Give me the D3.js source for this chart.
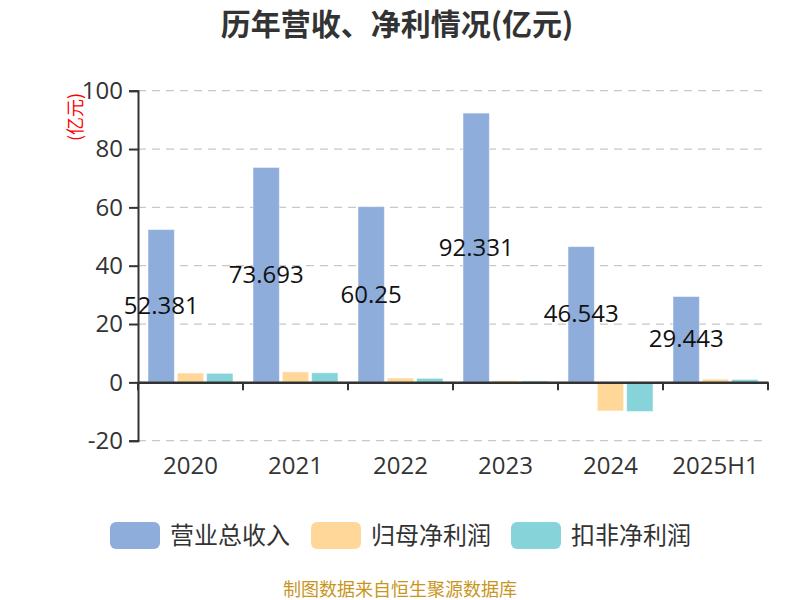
<!DOCTYPE html>
<html><head><meta charset="utf-8">
<script src="https://cdn.jsdelivr.net/npm/d3@7"></script>
<style>body{margin:0;background:#fff}svg{font-family:"Noto Sans CJK SC","Noto Sans",sans-serif}</style>
</head><body>
<svg id="c" width="800" height="600"></svg>
<script>
const categories = ["2020","2021","2022","2023","2024","2025H1"];
const seriesNames = ["营业总收入","归母净利润","扣非净利润"];
const revenue = [52.381, 73.693, 60.25, 92.331, 46.543, 29.443];
const netProfit = [3.2, 3.6, 1.5, 0.6, -9.8, 1.1];
const deductedProfit = [3.1, 3.3, 1.4, 0.5, -10.0, 1.0];
const yTicks = [-20, 0, 20, 40, 60, 80, 100];
const colors = ["#8eaddb", "#ffd899", "#86d4d9"];

const series = [revenue, netProfit, deductedProfit];
const numFont = "'Open Sans','Noto Sans',sans-serif";
const svg = d3.select("#c");
const m = {l:138, r:768, t:90.7, b:440.7};
const x = d3.scaleBand().domain(categories).range([m.l, m.r]).paddingInner(0).paddingOuter(0);
const y = d3.scaleLinear().domain([-20, 100]).range([m.b, m.t]);
const inner = d3.scaleBand().domain(d3.range(3)).range([10, x.bandwidth()-10]).paddingInner(0.1);

// title
svg.append("text").attr("x",397).attr("y",35).attr("text-anchor","middle")
  .attr("font-size",30).attr("font-weight","bold").attr("fill","#333").text("历年营收、净利情况(亿元)");

// grid
svg.append("g").selectAll("line").data(yTicks).join("line")
  .attr("x1",m.l).attr("x2",m.r).attr("y1",d=>y(d)).attr("y2",d=>y(d))
  .attr("stroke","#c8c8c8").attr("stroke-dasharray","8,6").attr("stroke-width",1.3);

// y axis
const ya = svg.append("g").attr("transform",`translate(${m.l},0)`)
  .call(d3.axisLeft(y).tickValues(yTicks).tickFormat(d=>String(d)).tickSize(9).tickPadding(6));
ya.select(".domain").attr("stroke","#333").attr("stroke-width",2);
ya.selectAll(".tick line").attr("stroke","#333").attr("stroke-width",2);
ya.selectAll("text").attr("font-size",24).attr("fill","#333").attr("font-family",numFont);

// unit label
svg.append("text").attr("transform",`translate(82,117) rotate(-90)`).attr("text-anchor","middle")
  .attr("font-size",18).attr("fill","#ff0000").text("(亿元)");

// bars
const groups = svg.append("g").selectAll("g").data(series).join("g").attr("fill",(d,i)=>colors[i]);
groups.each(function(vals, si){
  d3.select(this).selectAll("rect").data(vals).join("rect")
    .attr("x",(d,i)=>x(categories[i])+inner(si))
    .attr("width",inner.bandwidth())
    .attr("y",d=>y(Math.max(0,d)))
    .attr("height",d=>Math.abs(y(d)-y(0)))
    .attr("stroke","rgba(255,255,255,0.5)").attr("stroke-width",1);
});

// x axis
const xa = svg.append("g").attr("transform",`translate(0,${y(0)})`)
  .call(d3.axisBottom(x).tickSize(0).tickPadding(0));
xa.select(".domain").attr("stroke","#333").attr("stroke-width",2.5);
xa.selectAll(".tick text").remove();
svg.append("g").selectAll("line").data(d3.range(categories.length+1)).join("line")
  .attr("x1",i=>m.l+i*x.step()).attr("x2",i=>m.l+i*x.step())
  .attr("y1",y(0)).attr("y2",y(0)+8).attr("stroke","#333").attr("stroke-width",2);
svg.append("g").selectAll("text").data(categories).join("text")
  .attr("x",d=>x(d)+x.bandwidth()/2).attr("y",474).attr("text-anchor","middle")
  .attr("font-size",24).attr("fill","#333").attr("font-family",numFont).text(d=>d);

// value labels
svg.append("g").selectAll("text").data(revenue).join("text")
  .attr("x",(d,i)=>x(categories[i])+inner(0)+inner.bandwidth()/2)
  .attr("y",d=>(y(d)+y(0))/2+8).attr("text-anchor","middle")
  .attr("font-size",24).attr("fill","#111").attr("font-family",numFont).text(d=>d);

// legend
const lx = [110, 311, 511];
const lg = svg.append("g").selectAll("g").data(seriesNames).join("g")
  .attr("transform",(d,i)=>`translate(${lx[i]},522)`);
lg.append("rect").attr("width",50).attr("height",27).attr("rx",6).attr("fill",(d,i)=>colors[i]);
lg.append("text").attr("x",60).attr("y",22).attr("font-size",24).attr("fill","#333").text(d=>d);

// footer
svg.append("text").attr("x",400).attr("y",596).attr("text-anchor","middle")
  .attr("font-size",18).attr("fill","#c8961e").text("制图数据来自恒生聚源数据库");
</script>
</body></html>
